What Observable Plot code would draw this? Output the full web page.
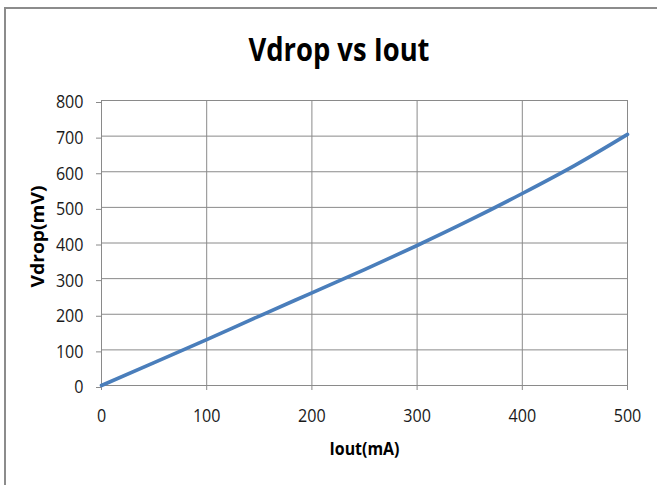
<!DOCTYPE html>
<html><head><meta charset="utf-8">
<script src="https://cdn.jsdelivr.net/npm/d3@7"></script>
<script src="https://cdn.jsdelivr.net/npm/@observablehq/plot@0.6"></script>
<style>
html,body{margin:0;padding:0;background:#fff;}
#wrap{position:relative;width:657px;height:485px;overflow:hidden;background:#fff;}
#frame{position:absolute;left:4px;top:7px;width:700px;height:600px;border-left:2px solid #8c8c8c;border-top:2px solid #8c8c8c;}
#chart{position:absolute;left:0;top:0;}
</style></head><body>
<div id="wrap"><div id="frame"></div><div id="chart"></div></div>
<script>
const iout  = [0, 50, 100, 150, 200, 250, 300, 350, 400, 450, 500];
const vdrop = [0, 64, 129, 195, 260, 325, 393, 464, 539, 618, 705];
const xTicks = [0, 100, 200, 300, 400, 500];
const yTicks = [0, 100, 200, 300, 400, 500, 600, 700, 800];
const titleText = "Vdrop vs Iout";
const xLabel = "Iout(mA)";
const yLabel = "Vdrop(mV)";

const data = iout.map((x, i) => ({x, y: vdrop[i]}));
const gridColor = "#8a8a8a";

const plot = Plot.plot({
  width: 657, height: 485,
  marginLeft: 101, marginRight: 30, marginTop: 100, marginBottom: 100,
  style: {fontFamily: "'Open Sans', sans-serif", fontSize: "18.5px", color: "#000", background: "transparent"},
  x: {domain: [0, 500], ticks: xTicks},
  y: {domain: [0, 800], ticks: yTicks},
  marks: [
    Plot.gridX(xTicks, {stroke: gridColor, strokeOpacity: 1, strokeWidth: 1}),
    Plot.gridY(yTicks, {stroke: gridColor, strokeOpacity: 1, strokeWidth: 1}),
    Plot.axisX(xTicks, {tickSize: 5, tickPadding: 18, stroke: gridColor, fill: "#1a1a1a", label: null, fontSize: 18.5}),
    Plot.axisY(yTicks, {tickSize: 5, tickPadding: 13, stroke: gridColor, fill: "#1a1a1a", label: null, fontSize: 18.5, dy: 2}),
    Plot.ruleX([0], {stroke: gridColor}),
    Plot.ruleY([0], {stroke: gridColor}),
    Plot.line(data, {x: "x", y: "y", stroke: "#4a7ebb", strokeWidth: 3.6, curve: "monotone-x"}),
    Plot.text([titleText], {text: d => d, frameAnchor: "top", textAnchor: "middle", lineAnchor: "middle", dx: -25.5, dy: -50, fontSize: 33, fontWeight: "bold", fill: "#000"}),
    Plot.text([xLabel], {text: d => d, frameAnchor: "bottom", textAnchor: "middle", lineAnchor: "middle", dx: 0, dy: 64, fontSize: 17, fontWeight: "bold", fill: "#000"}),
    Plot.text([yLabel], {text: d => d, frameAnchor: "left", textAnchor: "middle", lineAnchor: "middle", dx: -63, dy: -6.5, rotate: -90, fontSize: 17, fontWeight: "bold", fill: "#000"})
  ]
});
document.getElementById("chart").appendChild(plot);

const lengths = {[titleText]: 181, [xLabel]: 70, [yLabel]: 102};
plot.querySelectorAll("text").forEach(t => {
  const L = lengths[t.textContent];
  if (L) { t.setAttribute("textLength", L); t.setAttribute("lengthAdjust", "spacingAndGlyphs"); }
});
plot.querySelectorAll('g[aria-label$="tick label"] text').forEach(t => {
  const n = t.textContent.length;
  t.setAttribute("textLength", 9.2 * n);
  t.setAttribute("lengthAdjust", "spacingAndGlyphs");
});
</script>
</body></html>
